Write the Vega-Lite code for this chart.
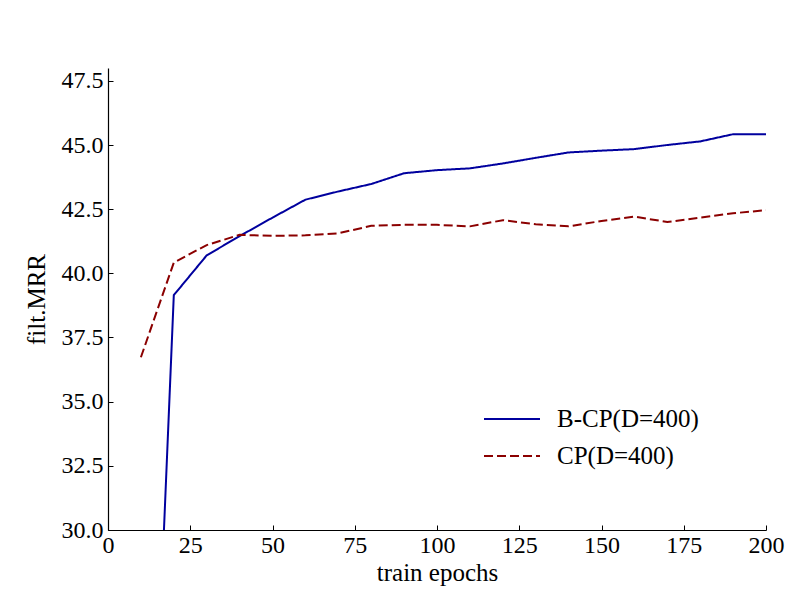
{
  "$schema": "https://vega.github.io/schema/vega-lite/v6.json",
  "autosize": "none",
  "padding": {"left": 108, "top": 68, "right": 23, "bottom": 60},
  "width": 658,
  "height": 462,
  "background": "#ffffff",
  "config": {
    "view": {"stroke": null},
    "font": "Liberation Serif",
    "axis": {
      "grid": false,
      "labelFlush": false,
      "domainColor": "#000000",
      "domainWidth": 1.2,
      "tickColor": "#000000",
      "tickSize": -5,
      "tickWidth": 1,
      "labelColor": "#000000",
      "labelFont": "Liberation Serif",
      "labelFontSize": 24,
      "titleFont": "Liberation Serif",
      "titleFontSize": 25,
      "titleFontWeight": "normal",
      "titleColor": "#000000"
    }
  },
  "data": {
    "values": [
      {"epoch": 10, "mrr": 8.6, "model": "B-CP(D=400)"},
      {"epoch": 20, "mrr": 39.15, "model": "B-CP(D=400)"},
      {"epoch": 30, "mrr": 40.7, "model": "B-CP(D=400)"},
      {"epoch": 40, "mrr": 41.45, "model": "B-CP(D=400)"},
      {"epoch": 50, "mrr": 42.17, "model": "B-CP(D=400)"},
      {"epoch": 60, "mrr": 42.87, "model": "B-CP(D=400)"},
      {"epoch": 70, "mrr": 43.19, "model": "B-CP(D=400)"},
      {"epoch": 80, "mrr": 43.48, "model": "B-CP(D=400)"},
      {"epoch": 90, "mrr": 43.9, "model": "B-CP(D=400)"},
      {"epoch": 100, "mrr": 44.02, "model": "B-CP(D=400)"},
      {"epoch": 110, "mrr": 44.09, "model": "B-CP(D=400)"},
      {"epoch": 120, "mrr": 44.28, "model": "B-CP(D=400)"},
      {"epoch": 130, "mrr": 44.5, "model": "B-CP(D=400)"},
      {"epoch": 140, "mrr": 44.71, "model": "B-CP(D=400)"},
      {"epoch": 150, "mrr": 44.78, "model": "B-CP(D=400)"},
      {"epoch": 160, "mrr": 44.84, "model": "B-CP(D=400)"},
      {"epoch": 170, "mrr": 45.0, "model": "B-CP(D=400)"},
      {"epoch": 180, "mrr": 45.14, "model": "B-CP(D=400)"},
      {"epoch": 190, "mrr": 45.42, "model": "B-CP(D=400)"},
      {"epoch": 200, "mrr": 45.42, "model": "B-CP(D=400)"},
      {"epoch": 10, "mrr": 36.73, "model": "CP(D=400)"},
      {"epoch": 20, "mrr": 40.42, "model": "CP(D=400)"},
      {"epoch": 30, "mrr": 41.1, "model": "CP(D=400)"},
      {"epoch": 40, "mrr": 41.5, "model": "CP(D=400)"},
      {"epoch": 50, "mrr": 41.46, "model": "CP(D=400)"},
      {"epoch": 60, "mrr": 41.48, "model": "CP(D=400)"},
      {"epoch": 70, "mrr": 41.56, "model": "CP(D=400)"},
      {"epoch": 80, "mrr": 41.85, "model": "CP(D=400)"},
      {"epoch": 90, "mrr": 41.89, "model": "CP(D=400)"},
      {"epoch": 100, "mrr": 41.89, "model": "CP(D=400)"},
      {"epoch": 110, "mrr": 41.83, "model": "CP(D=400)"},
      {"epoch": 120, "mrr": 42.07, "model": "CP(D=400)"},
      {"epoch": 130, "mrr": 41.91, "model": "CP(D=400)"},
      {"epoch": 140, "mrr": 41.83, "model": "CP(D=400)"},
      {"epoch": 150, "mrr": 42.04, "model": "CP(D=400)"},
      {"epoch": 160, "mrr": 42.21, "model": "CP(D=400)"},
      {"epoch": 170, "mrr": 42.0, "model": "CP(D=400)"},
      {"epoch": 180, "mrr": 42.17, "model": "CP(D=400)"},
      {"epoch": 190, "mrr": 42.34, "model": "CP(D=400)"},
      {"epoch": 200, "mrr": 42.46, "model": "CP(D=400)"}
    ]
  },
  "mark": {"type": "line", "strokeWidth": 2, "clip": true},
  "encoding": {
    "x": {
      "field": "epoch",
      "type": "quantitative",
      "scale": {"domain": [0, 200], "nice": false, "zero": false},
      "axis": {
        "title": "train epochs",
        "values": [0, 25, 50, 75, 100, 125, 150, 175, 200],
        "format": "d",
        "labelPadding": 8,
        "titlePadding": 3
      }
    },
    "y": {
      "field": "mrr",
      "type": "quantitative",
      "scale": {"domain": [30, 48], "nice": false, "zero": false},
      "axis": {
        "title": "filt.MRR",
        "values": [30, 32.5, 35, 37.5, 40, 42.5, 45, 47.5],
        "format": ".1f",
        "labelPadding": 10,
        "titlePadding": 12
      }
    },
    "color": {
      "field": "model",
      "type": "nominal",
      "scale": {"domain": ["B-CP(D=400)", "CP(D=400)"], "range": ["#00009e", "#8b0000"]},
      "legend": {
        "title": null,
        "orient": "none",
        "legendX": 389,
        "legendY": 336,
        "symbolType": "M-2,0H2",
        "symbolSize": 784,
        "symbolStrokeWidth": 2,
        "labelFontSize": 25,
        "labelFont": "Liberation Serif",
        "labelColor": "#000000",
        "labelOffset": 30,
        "rowPadding": 9,
        "labelLimit": 300
      }
    },
    "strokeDash": {
      "field": "model",
      "type": "nominal",
      "scale": {"domain": ["B-CP(D=400)", "CP(D=400)"], "range": [[1, 0], [9, 4]]},
      "legend": null
    }
  }
}
